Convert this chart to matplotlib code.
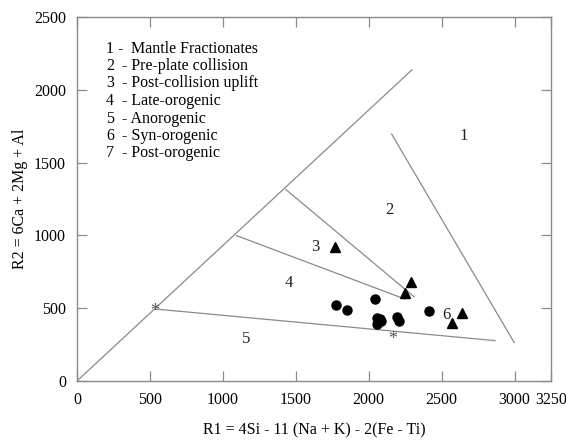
import matplotlib
matplotlib.use("Agg")
import matplotlib.pyplot as plt

plt.rcParams['font.family'] = ['Liberation Serif', 'DejaVu Serif']

# Field boundary lines (R1, R2 endpoints)
line_diag_x = [0, 2300]
line_diag_y = [0, 2140]
line_1_x = [2155, 3000]
line_1_y = [1700, 260]
line_32_x = [1430, 2315]
line_32_y = [1317, 575]
line_43_x = [1090, 2253]
line_43_y = [1000, 561]
line_54_x = [530, 2870]
line_54_y = [495, 277]

# Samples
circles_x = [1778, 1852, 2046, 2059, 2075, 2087, 2059, 2196, 2210, 2413]
circles_y = [520, 488, 563, 435, 425, 414, 389, 437, 414, 481]
triangles_x = [1767, 2290, 2251, 2642, 2571]
triangles_y = [918, 678, 606, 465, 400]

# Asterisk points
stars_x = [530, 2162]
stars_y = [475, 285]

# Field labels
field_labels = ['1', '2', '3', '4', '5', '6']
field_x = [2651, 2142, 1637, 1452, 1160, 2532]
field_y = [1683, 1174, 918, 671, 290, 455]

legend_nums = ['1', '2', '3', '4', '5', '6', '7']
legend_texts = ['Mantle Fractionates', 'Pre-plate collision', 'Post-collision uplift',
                'Late-orogenic', 'Anorogenic', 'Syn-orogenic', 'Post-orogenic']

xticks = [0, 500, 1000, 1500, 2000, 2500, 3000, 3250]
yticks = [0, 500, 1000, 1500, 2000, 2500]

fig = plt.figure(figsize=(5.66, 4.41), dpi=100)
ax = fig.add_axes([77/566, 1 - 381/441, (551-77)/566, (381-17)/441])

lc = '#8a8a8a'
for xs, ys in [(line_diag_x, line_diag_y), (line_1_x, line_1_y), (line_32_x, line_32_y),
               (line_43_x, line_43_y), (line_54_x, line_54_y)]:
    ax.plot(xs, ys, color=lc, lw=0.9, solid_capstyle='butt')

ax.plot(circles_x, circles_y, 'o', color='black', ms=6.5, ls='none')
ax.plot(triangles_x, triangles_y, '^', color='black', ms=6.5, ls='none')

for sx, sy in zip(stars_x, stars_y):
    ax.text(sx, sy, '*', color='#555555', fontsize=13, ha='center', va='center')

for lab, fx, fy in zip(field_labels, field_x, field_y):
    ax.text(fx, fy, lab, fontsize=12, ha='center', va='center', color='#222222')

row_y = [2278, 2163, 2045, 1923, 1801, 1681, 1564]
for i, (n, t) in enumerate(zip(legend_nums, legend_texts)):
    ax.text(199, row_y[i], n, fontsize=11.5, ha='left', va='center')
    if i == 0:
        ax.text(274, row_y[i], '-', fontsize=11.5, ha='left', va='center')
        ax.text(368, row_y[i], t, fontsize=11.5, ha='left', va='center')
    else:
        ax.text(308, row_y[i], '- ' + t, fontsize=11.5, ha='left', va='center')

ax.set_xlim(0, 3250)
ax.set_ylim(0, 2500)
ax.set_xticks(xticks)
ax.set_xticklabels([str(v) for v in xticks])
ax.set_yticks(yticks)
ax.set_yticklabels([str(v) for v in yticks])
ax.tick_params(direction='in', length=7, width=0.9, color='#8a8a8a',
               top=True, right=True, labelsize=11.5, pad=8)
for s in ax.spines.values():
    s.set_color('#8a8a8a')
    s.set_linewidth(1.0)

ax.set_xlabel('R1 = 4Si - 11 (Na + K) - 2(Fe - Ti)', fontsize=11.5, labelpad=10)
ax.set_ylabel('R2 = 6Ca + 2Mg + Al', fontsize=11.5, labelpad=4)

fig.savefig('out.png', dpi=100)
